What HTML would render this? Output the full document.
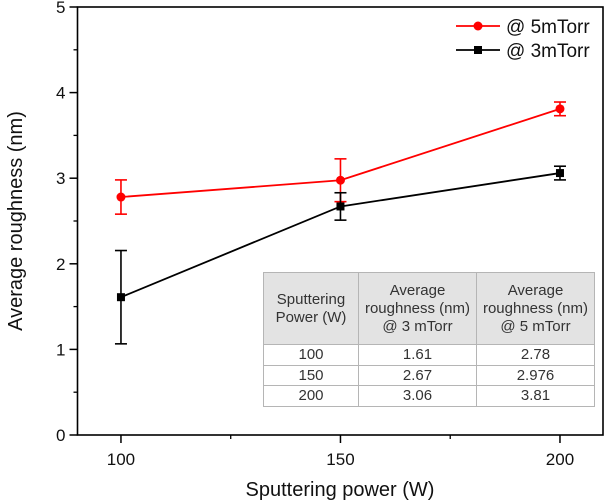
<!DOCTYPE html>
<html><head><meta charset="utf-8">
<style>
body{margin:0;background:#fff;}
svg text{font-family:"Liberation Sans",Arial,sans-serif;}
#tbl{position:absolute;left:263px;top:272px;border-collapse:collapse;font-family:"Liberation Sans",Arial,sans-serif;font-size:15px;color:#333;table-layout:fixed;}
#tbl td{border:1px solid #b5b5b5;text-align:center;padding:0;line-height:18px;white-space:nowrap;overflow:hidden;}
#tbl tr.h td{background:#e3e3e3;height:71px;}
#tbl tr.r td{background:#fff;height:19.5px;line-height:19px;}
</style></head><body>
<svg id="chart" width="605" height="502" style="position:absolute;left:0;top:0"></svg>
<table id="tbl">
<tr class="h"><td style="width:94px">Sputtering<br>Power (W)</td><td style="width:117px">Average<br>roughness (nm)<br>@ 3 mTorr</td><td style="width:117px">Average<br>roughness (nm)<br>@ 5 mTorr</td></tr>
<tr class="r"><td>100</td><td>1.61</td><td>2.78</td></tr>
<tr class="r"><td>150</td><td>2.67</td><td>2.976</td></tr>
<tr class="r"><td>200</td><td>3.06</td><td>3.81</td></tr>
</table>
<script>
const powers=[100,150,200];
const r5=[2.78,2.976,3.81];
const e5=[0.2,0.25,0.08];
const r3=[1.61,2.67,3.06];
const e3=[0.545,0.16,0.08];
const xTicks=[100,150,200];
const yTicks=[0,1,2,3,4,5];
const L=77.5,R=603,T=7,B=435;
const xs=v=>L+(v-90.1)/(209.8-90.1)*(R-L);
const ys=v=>B-v/5*(B-T);
const svg=document.getElementById('chart');
const NS='http://www.w3.org/2000/svg';
function mk(tag,attrs,parent){const e=document.createElementNS(NS,tag);for(const k in attrs)e.setAttribute(k,attrs[k]);(parent||svg).appendChild(e);return e;}
let fr=mk('rect',{x:L,y:T,width:R-L,height:B-T,fill:'none',stroke:'#000','stroke-width':1.6});


yTicks.forEach(v=>{
 let t=mk('line',{x1:L-8,x2:L,y1:ys(v),y2:ys(v),stroke:'#000','stroke-width':1.5});
 
 
 if(v<5){let m=mk('line',{x1:L-4,x2:L,y1:ys(v+0.5),y2:ys(v+0.5),stroke:'#000','stroke-width':1.3});
 
 }
 let tx=mk('text',{x:L-12,y:ys(v)+6,'text-anchor':'end','font-size':17,fill:'#111'});tx.textContent=v;
 
 
});
xTicks.forEach((v,i)=>{
 let t=mk('line',{x1:xs(v),x2:xs(v),y1:B,y2:B+8,stroke:'#000','stroke-width':1.5});
 
 
 if(i<xTicks.length-1){let m=mk('line',{x1:xs(v+25),x2:xs(v+25),y1:B,y2:B+4,stroke:'#000','stroke-width':1.3});
 
 }
 let tx=mk('text',{x:xs(v),y:B+30,'text-anchor':'middle','font-size':17,fill:'#111'});tx.textContent=v;
 
 
});
let xt=mk('text',{x:340,y:496,'text-anchor':'middle','font-size':20,fill:'#111'});xt.textContent='Sputtering power (W)';


let yt=mk('text',{x:0,y:0,'text-anchor':'middle','font-size':20,fill:'#111',transform:'translate(22,221) rotate(-90)'});yt.textContent='Average roughness (nm)';


function series(vals,errs,color,marker,name){
 let pts=powers.map((p,i)=>xs(p)+','+ys(vals[i])).join(' ');
 let pl=mk('polyline',{points:pts,fill:'none',stroke:color,'stroke-width':1.8});
 
 
 powers.forEach((p,i)=>{
  const x=xs(p),y1=ys(vals[i]+errs[i]),y2=ys(vals[i]-errs[i]);
  let g=mk('g',{stroke:color,'stroke-width':1.6});
  
  
  mk('line',{x1:x,x2:x,y1:y1,y2:y2},g);
  mk('line',{x1:x-6,x2:x+6,y1:y1,y2:y1},g);
  mk('line',{x1:x-6,x2:x+6,y1:y2,y2:y2},g);
  let m;
  if(marker==='circle')m=mk('circle',{cx:x,cy:ys(vals[i]),r:4.5,fill:color});
  else m=mk('rect',{x:x-4,y:ys(vals[i])-4,width:8,height:8,fill:color});
  
  
 });
}
series(r5,e5,'#ff0000','circle','series-5mtorr');
series(r3,e3,'#000000','square','series-3mtorr');
function legend(y,color,marker,label,name){
 let g=mk('g',{});
 
 
 mk('line',{x1:456,x2:500,y1:y,y2:y,stroke:color,'stroke-width':1.8},g);
 if(marker==='circle')mk('circle',{cx:478,cy:y,r:4.5,fill:color},g);
 else mk('rect',{x:474,y:y-4,width:8,height:8,fill:color},g);
 let t=mk('text',{x:506,y:y+7,'font-size':19,fill:'#111'},g);t.textContent=label;
}
legend(26,'#ff0000','circle','@ 5mTorr','legend-entry-5mtorr');
legend(50,'#000000','square','@ 3mTorr','legend-entry-3mtorr');
</script>
</body></html>
